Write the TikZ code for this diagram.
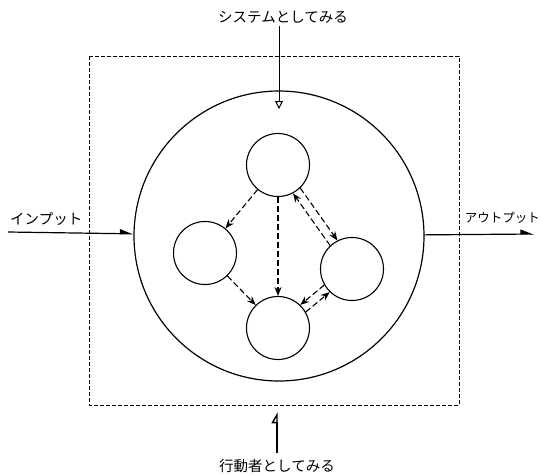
\documentclass[tikz,border=0pt]{standalone}
\usepackage{fontspec}
\newfontfamily\jp{Noto Sans CJK JP}
\usetikzlibrary{arrows.meta}
\begin{document}
\begin{tikzpicture}[x=1pt,y=-1pt,
  unit/.style={circle,draw,line width=1.1pt,inner sep=0pt,minimum size=63pt},
  flow/.style={draw,line width=1.1pt,dash pattern=on 6pt off 3pt,
    -{Stealth[length=9pt,width=7pt]}},
  label/.style={font=\jp\fontsize{14.5}{16}\selectfont,inner sep=0pt},
  frame/.style={draw,line width=0.8pt,dash pattern=on 4pt off 2pt}]
\useasboundingbox (0,0) rectangle (542,475);

% observer boundary
\path[frame] (89,56) rectangle (459,405);

% the system and its parts
\node[circle,draw,line width=1.2pt,inner sep=0pt,minimum size=290pt] (big) at (279,236) {};
\node[unit] (top) at (278,165) {};
\node[unit] (left) at (205,253) {};
\node[unit] (right) at (352,269) {};
\node[unit] (bottom) at (278,328) {};

% interactions between the parts
\path[flow] (top) -- (left);
\path[flow] (top) -- (bottom);
\path[flow] (left) -- (bottom);
\path[flow] (top.-46.6) -- (right.117.4);
\path[flow] (right.133.4) -- (top.-62.6);
\path[flow] (right.210.6) -- (bottom.46.6);
\path[flow] (bottom.30.6) -- (right.226.6);

% input and output
\node[label,anchor=south west] (inlab) at (10,226) {インプット};
\coordinate (inL) at (8,232);
\draw[line width=1.2pt,-{Triangle[left,length=12pt,width=9pt]}] (inL) -- (big);
\node[label,font=\jp\fontsize{12.5}{14}\selectfont,anchor=south east] (outlab) at (540,224) {アウトプット};
\coordinate (outR) at (534,234);
\draw[line width=1.2pt,-{Triangle[left,length=12pt,width=9pt]}] (big) -- (outR);

% viewpoints
\node[label] (sys) at (283,17) {システムとしてみる};
\coordinate (sysEnd) at (279,109);
\draw[line width=1pt,-{Triangle[open,length=8pt,width=8pt]}] (sys.south -| sysEnd) ++(0,3) -- (sysEnd);
\node[label] (act) at (277,466) {行動者としてみる};
\coordinate (actEnd) at (277,412);
\draw[line width=1.4pt,-{Triangle[open,left,length=10pt,width=11pt]}] (act.north -| actEnd) ++(0,-6) -- (actEnd);
\end{tikzpicture}
\end{document}
